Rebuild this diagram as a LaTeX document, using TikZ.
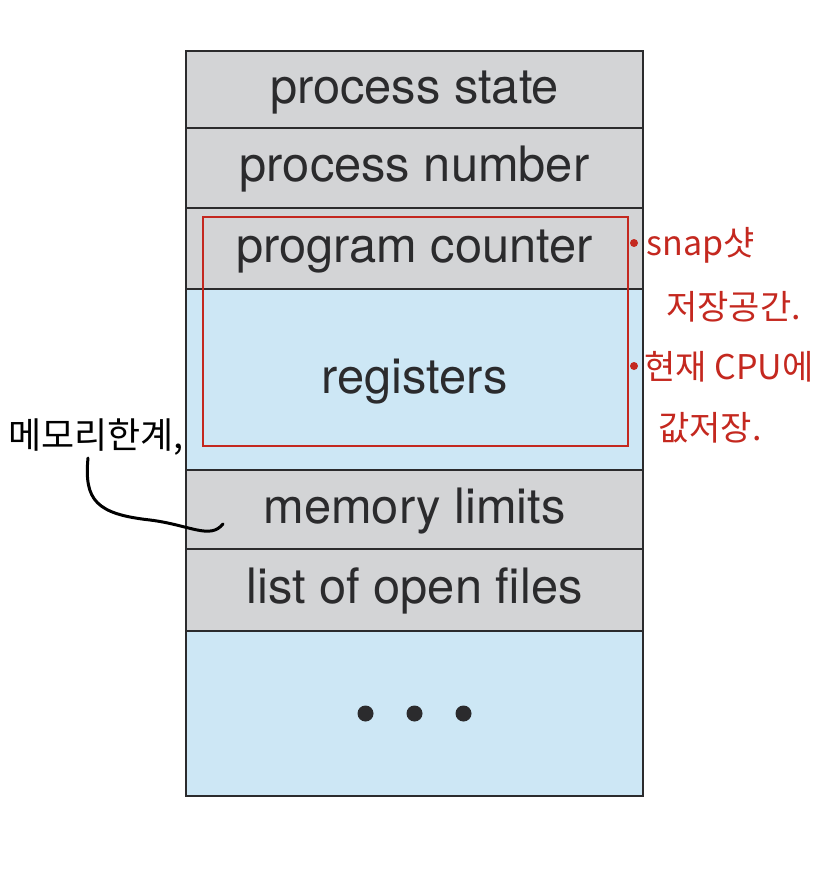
\documentclass[tikz,border=0pt]{standalone}
\usepackage{fontspec}
\setmainfont{TeX Gyre Heros}
\newfontfamily\hangul{Noto Sans CJK KR}
\usetikzlibrary{positioning}

\definecolor{pcbgray}{HTML}{D3D4D6}
\definecolor{pcbblue}{HTML}{CDE7F5}
\definecolor{pcbline}{HTML}{2B2B2D}
\definecolor{penred}{HTML}{C4281F}

\tikzset{
  field/.style={draw=pcbline, line width=1.1pt, minimum width=228.5pt,
    inner sep=0pt, outer sep=0pt, text=pcbline, text height=18pt, text depth=4.5pt,
    font=\fontsize{24.4}{28}\selectfont},
  grayfield/.style={field, fill=pcbgray},
  bluefield/.style={field, fill=pcbblue},
  note/.style={anchor=west, inner sep=0pt, text=penred,
    font=\hangul\fontsize{17}{20}\selectfont},
  pendot/.style={circle, fill=penred, inner sep=0pt, minimum size=4pt}
}

\begin{document}
\begin{tikzpicture}[x=0.5pt,y=-0.5pt]

        \useasboundingbox (0,0) rectangle (816,878);

        % PCB fields, top to bottom
        \node[grayfield, minimum height=38.5pt] (state) at (414.5,89.5) {process state};
        \node[grayfield, minimum height=40pt, below=0pt of state] (number) {process number};
        \node[grayfield, minimum height=40.5pt, below=0pt of number] (counter) {program counter};
        \node[bluefield, minimum height=90.5pt, below=0pt of counter] (registers) {registers};
        \node[grayfield, minimum height=39.5pt, below=0pt of registers] (limits) {memory limits};
        \node[grayfield, minimum height=41pt, below=0pt of limits] (files) {list of open files};
        \node[bluefield, minimum height=82.5pt, below=0pt of files] (more) {};

        % three dots in the last field
        \foreach \dx in {-49,0,49}
            \fill[pcbline] ([xshift=\dx*0.5pt]more.center) circle [radius=8];

        % red notes on the right
        \node[draw=penred, line width=1pt, minimum width=212.5pt, minimum height=114.5pt,
              inner sep=0pt] (pcmark) at (415.5,331.5) {};
        \node[pendot] (dotone) at (634,243) {};
        \node[pendot] (dottwo) at (634,366) {};
        \node[note] (snapnote) at (646,245) {snap샷};
        \node[note] (storenote) at (666,307) {저장공간.};
        \node[note] (cpunote) at (644,367) {현재 CPU에};
        \node[note] (valnote) at (658,428) {값저장.};

        % black note on the left
        \node[note, text=black, font=\hangul\fontsize{18}{21}\selectfont] (memnote) at (8,437) {메모리한계,};
        \coordinate (hookstart) at (88,458);
        \coordinate (hookend) at (223,524);
        \draw[line width=1.5pt, line cap=round] (hookstart)
            .. controls (84,500) and (96,514) .. (150,520)
            .. controls (190,525) and (210,540) .. (hookend);

\end{tikzpicture}
\end{document}
